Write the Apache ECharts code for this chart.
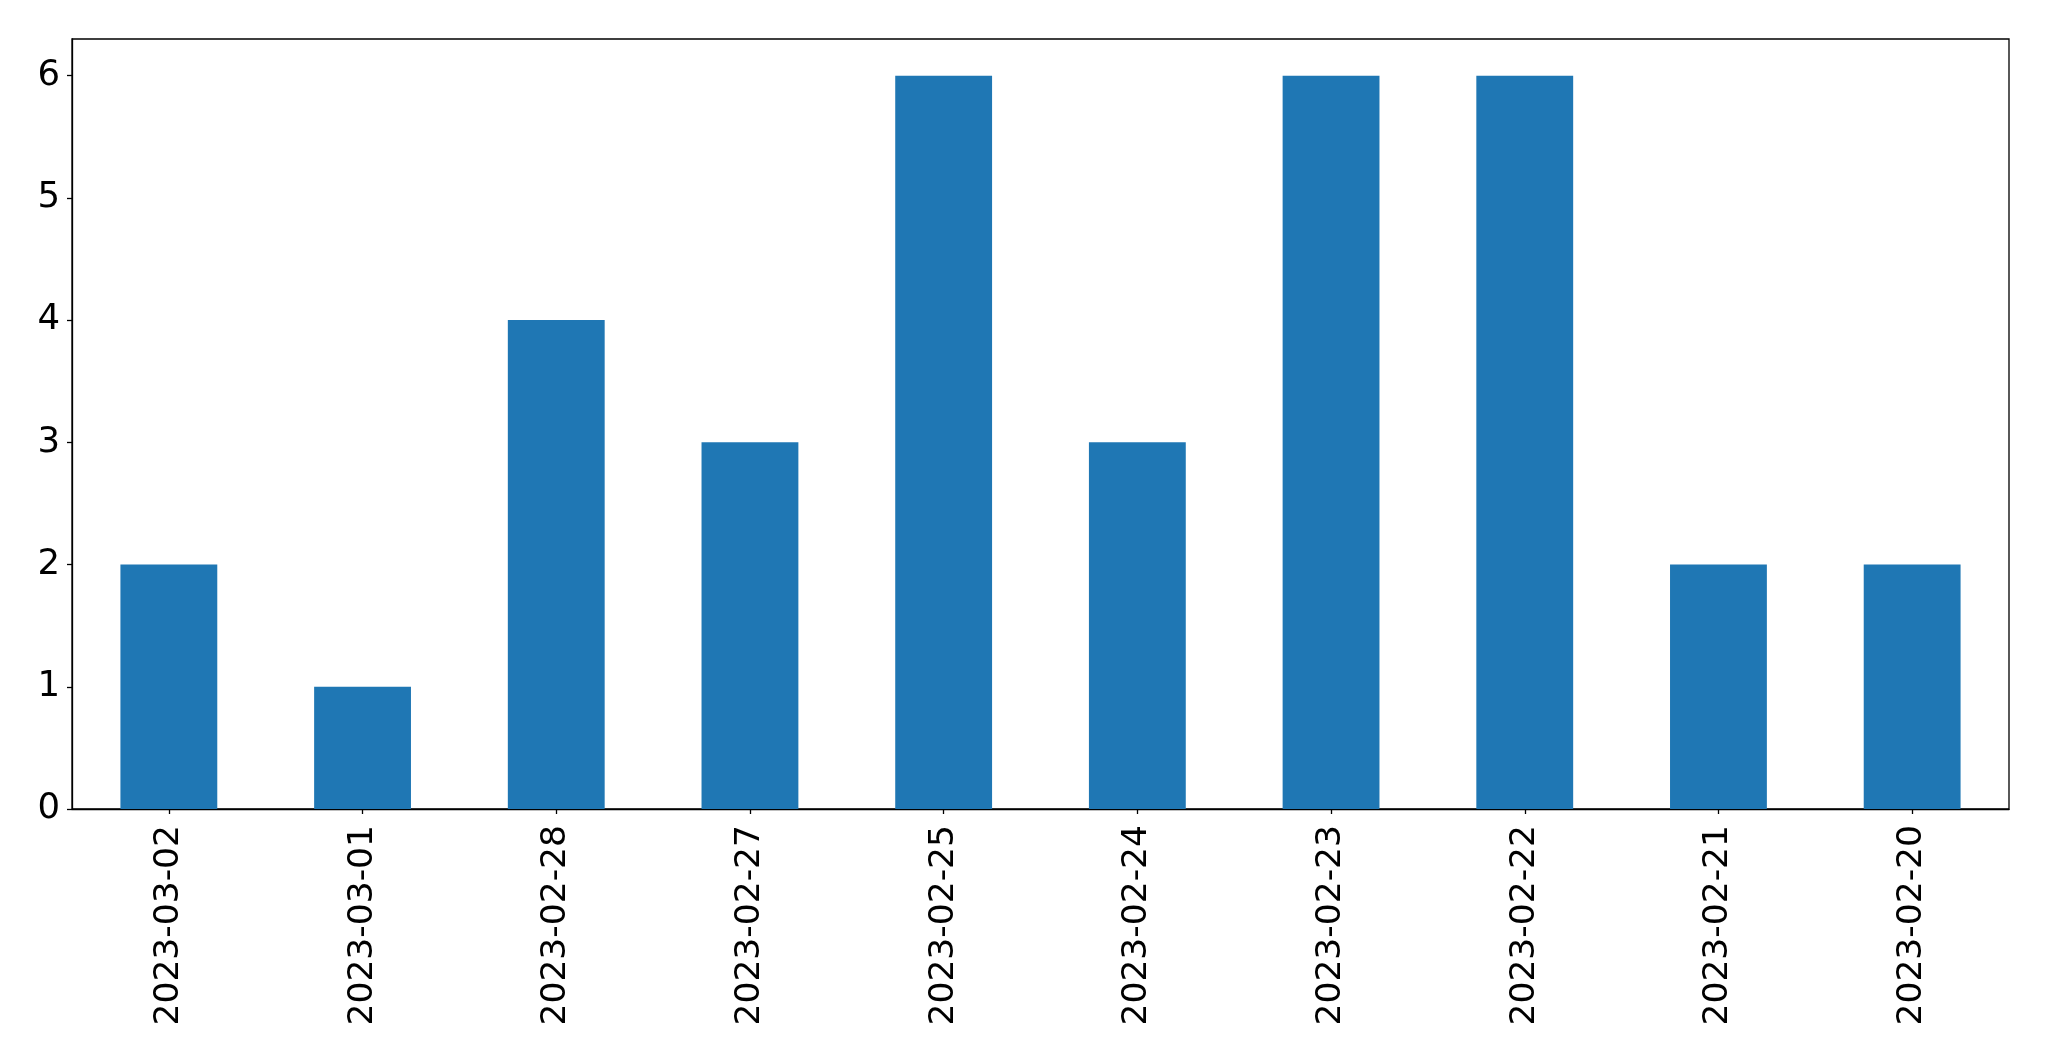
<!DOCTYPE html>
<html>
<head>
<meta charset="utf-8">
<script src="https://cdn.jsdelivr.net/npm/echarts@6/dist/echarts.min.js"></script>
<style>
html,body{margin:0;padding:0;background:#fff;}
#chart{width:2049px;height:1061px;}
</style>
</head>
<body>
<div id="chart"></div>
<script>
const categories = ['2023-03-02','2023-03-01','2023-02-28','2023-02-27','2023-02-25','2023-02-24','2023-02-23','2023-02-22','2023-02-21','2023-02-20'];
const counts = [2,1,4,3,6,3,6,6,2,2];
const yTicks = [0,1,2,3,4,5,6];

const chart = echarts.init(document.getElementById('chart'), null, {renderer:'canvas'});
const font = 'DejaVu Sans';
chart.setOption({
  animation:false,
  backgroundColor:'#ffffff',
  grid:{left:72,right:40,top:39,bottom:252,show:true,borderColor:'#000',borderWidth:1.3,backgroundColor:'transparent'},
  xAxis:{
    type:'category',
    data:categories,
    axisLine:{show:true,lineStyle:{color:'#000',width:1.3}},
    axisTick:{show:true,alignWithLabel:true,length:5,lineStyle:{color:'#000',width:1.3}},
    axisLabel:{rotate:90,color:'#000',fontFamily:font,fontSize:34.5,margin:16,interval:0},
    splitLine:{show:false}
  },
  yAxis:{
    type:'value',
    min:0,max:6.3,interval:1,
    axisLine:{show:true,lineStyle:{color:'#000',width:1.3}},
    axisTick:{show:true,length:5,customValues:yTicks,lineStyle:{color:'#000',width:1.3}},
    axisLabel:{color:'#000',fontFamily:font,fontSize:35.5,margin:12,customValues:yTicks,padding:[6,0,0,0],
      formatter:function(v){return yTicks.indexOf(v)>=0?String(v):'';}},
    splitLine:{show:false}
  },
  series:[{
    type:'bar',
    data:counts,
    barWidth:'50%',
    itemStyle:{color:'#1f77b4'}
  }]
});
</script>
</body>
</html>
